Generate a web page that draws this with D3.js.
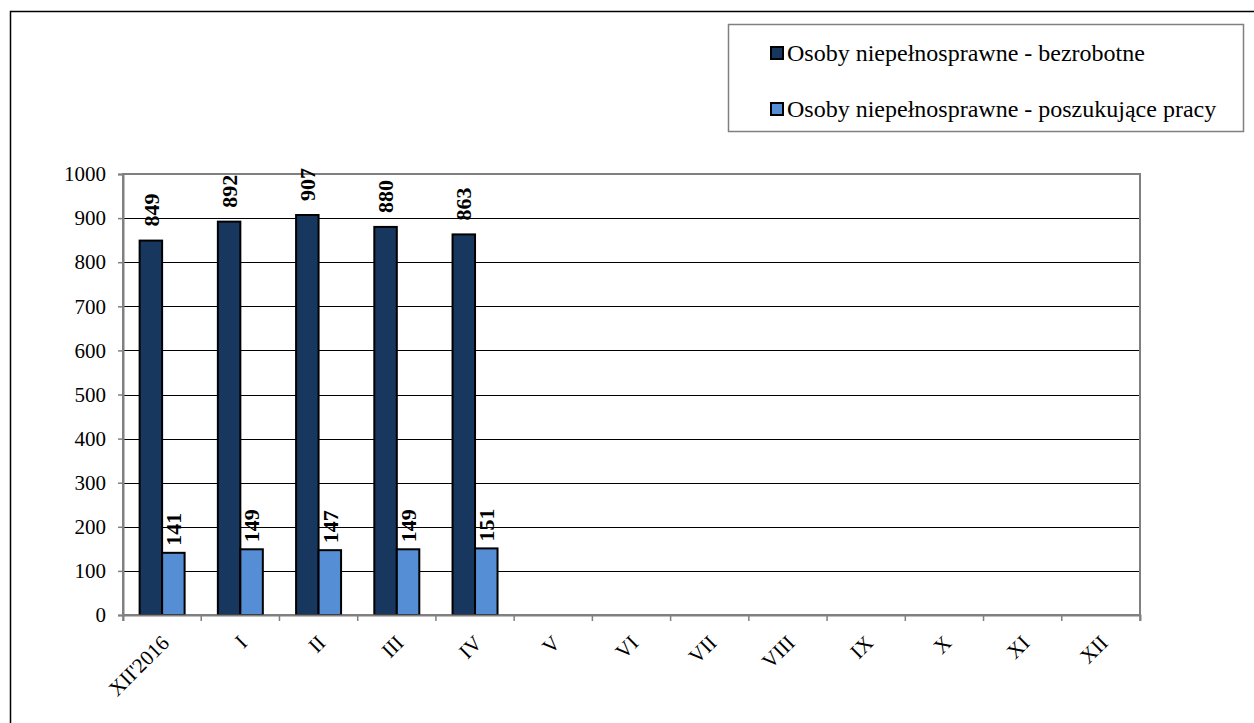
<!DOCTYPE html>
<html>
<head>
<meta charset="utf-8">
<script src="https://cdn.jsdelivr.net/npm/d3@7"></script>
<style>
  body { margin: 0; background: #fff; }
</style>
</head>
<body>
<div id="chart"></div>
<script>
const months = ["XII'2016", "I", "II", "III", "IV", "V", "VI", "VII", "VIII", "IX", "X", "XI", "XII"];
const unemployed = [849, 892, 907, 880, 863];
const jobSeekers = [141, 149, 147, 149, 151];
const seriesNames = ["Osoby niepełnosprawne - bezrobotne", "Osoby niepełnosprawne - poszukujące pracy"];
const yTicks = [0, 100, 200, 300, 400, 500, 600, 700, 800, 900, 1000];

const width = 1254, height = 723;
const colors = ["#17375E", "#558ED5"];
const labelGap = [14, 7];
const serif = '"Liberation Serif", "Times New Roman", serif';

const svg = d3.select("#chart").append("svg")
    .attr("width", width)
    .attr("height", height);

// outer frame (right and bottom edges fall outside the picture)
svg.append("rect")
    .attr("x", 10.5).attr("y", 11.5)
    .attr("width", width).attr("height", height)
    .attr("fill", "none").attr("stroke", "#000").attr("stroke-width", 1.5);

const plot = { left: 123, top: 174, right: 1140, bottom: 615 };

const x = d3.scaleBand().domain(months).range([plot.left, plot.right]);
const x1 = d3.scaleBand().domain([0, 1]).range([0, x.bandwidth() * 0.575]);
const y = d3.scaleLinear().domain([0, 1000]).range([plot.bottom, plot.top]);

// gridlines
svg.append("g")
    .selectAll("line")
    .data(yTicks.filter(t => t > 0 && t < 1000))
    .enter().append("line")
    .attr("x1", plot.left).attr("x2", plot.right)
    .attr("y1", d => Math.round(y(d)) + 0.5).attr("y2", d => Math.round(y(d)) + 0.5)
    .attr("stroke", "#000").attr("stroke-width", 1);

// plot area border
svg.append("rect")
    .attr("x", plot.left).attr("y", plot.top)
    .attr("width", plot.right - plot.left).attr("height", plot.bottom - plot.top)
    .attr("fill", "none").attr("stroke", "#808080").attr("stroke-width", 2);

// bars
const series = [unemployed, jobSeekers];
const groupOffset = (x.bandwidth() - x1.range()[1]) / 2;

series.forEach((vals, si) => {
    svg.append("g")
        .selectAll("rect")
        .data(vals)
        .enter().append("rect")
        .attr("x", (d, i) => x(months[i]) + groupOffset + x1(si))
        .attr("y", d => y(d))
        .attr("width", x1.bandwidth())
        .attr("height", d => y(0) - y(d))
        .attr("fill", colors[si])
        .attr("stroke", "#000")
        .attr("stroke-width", 2);

    svg.append("g")
        .selectAll("text")
        .data(vals)
        .enter().append("text")
        .attr("transform", (d, i) => {
            const cx = x(months[i]) + groupOffset + x1(si) + x1.bandwidth() / 2;
            return `translate(${cx},${y(d) - labelGap[si]}) rotate(-90)`;
        })
        .attr("dy", "0.35em")
        .attr("text-anchor", "start")
        .attr("font-family", serif)
        .attr("font-size", 22)
        .attr("font-weight", "bold")
        .text(d => d);
});

// y axis
const yAxis = svg.append("g")
    .attr("transform", `translate(${plot.left},0)`)
    .call(d3.axisLeft(y).tickValues(yTicks).tickFormat(d3.format("d")).tickSize(5).tickPadding(12));
yAxis.attr("font-family", serif).attr("font-size", 21);
yAxis.select(".domain").attr("stroke", "#808080").attr("stroke-width", 2);
yAxis.selectAll(".tick line").attr("stroke", "#808080").attr("stroke-width", 1.5);
yAxis.selectAll("text").attr("fill", "#000");

// x axis
const xAxis = svg.append("g")
    .attr("transform", `translate(0,${plot.bottom})`)
    .call(d3.axisBottom(x).tickSize(6).tickFormat(""));
xAxis.select(".domain").attr("stroke", "#808080").attr("stroke-width", 2);
xAxis.selectAll(".tick").attr("transform", d => `translate(${x(d)},0)`);
xAxis.selectAll(".tick line").attr("stroke", "#808080").attr("stroke-width", 1.5);
xAxis.append("line")
    .attr("x1", plot.right).attr("x2", plot.right)
    .attr("y1", 0).attr("y2", 6)
    .attr("stroke", "#808080").attr("stroke-width", 1.5);

svg.append("g")
    .selectAll("text")
    .data(months)
    .enter().append("text")
    .attr("transform", d => `translate(${x(d) + x.bandwidth() / 2 + 3},${plot.bottom + 24}) rotate(-45)`)
    .attr("text-anchor", "end")
    .attr("dy", "0.35em")
    .attr("font-family", serif)
    .attr("font-size", 21)
    .text(d => d);

// legend
const legend = svg.append("g");
legend.append("rect")
    .attr("x", 728.5).attr("y", 24.5)
    .attr("width", 515).attr("height", 107)
    .attr("fill", "#fff").attr("stroke", "#808080").attr("stroke-width", 1.5);

const rows = legend.selectAll("g.row")
    .data(seriesNames)
    .enter().append("g")
    .attr("transform", (d, i) => `translate(771,${53 + i * 56})`);

rows.append("rect")
    .attr("x", 0).attr("y", -6)
    .attr("width", 12).attr("height", 12)
    .attr("fill", (d, i) => colors[i])
    .attr("stroke", "#000").attr("stroke-width", 2);

rows.append("text")
    .attr("x", 16)
    .attr("dy", "0.35em")
    .attr("font-family", serif)
    .attr("font-size", 24)
    .text(d => d);
</script>
</body>
</html>
